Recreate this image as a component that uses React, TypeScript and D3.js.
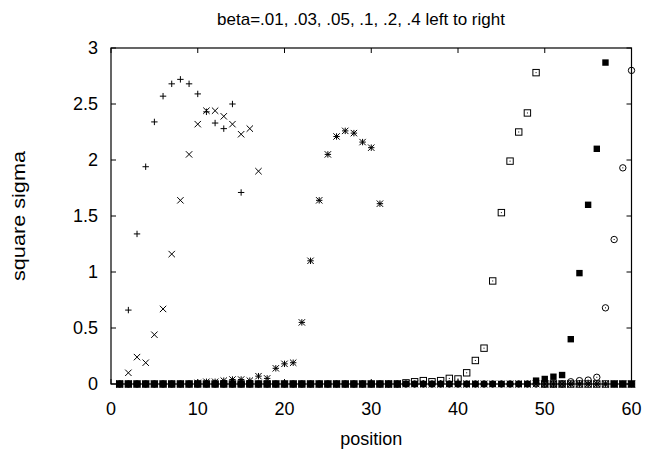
import React from "react";
import * as d3 from "d3";

const title = "beta=.01, .03, .05, .1, .2, .4 left to right";
const xLabel = "position";
const yLabel = "square sigma";
const xTicks = [0, 10, 20, 30, 40, 50, 60];
const yTicks = [0, 0.5, 1, 1.5, 2, 2.5, 3];
const positions = d3.range(1, 61);

// values at positions 1..60 (null = outside plot range)
const beta01 = [0, 0.66, 1.34, 1.94, 2.34, 2.57, 2.68, 2.72, 2.68, 2.59, 2.43, 2.33, 2.28, 2.5, 1.71,
  0, 0, 0, 0, 0, 0, 0, 0, 0, 0, 0, 0, 0, 0, 0, 0, 0, 0, 0, 0, 0, 0, 0, 0, 0, 0, 0, 0, 0, 0,
  0, 0, 0, 0, 0, 0, 0, 0, 0, 0, 0, 0, 0, 0, 0];
const beta03 = [0, 0.1, 0.24, 0.19, 0.44, 0.67, 1.16, 1.64, 2.05, 2.32, 2.44, 2.44, 2.39, 2.32, 2.23,
  2.28, 1.9, 0, 0, 0, 0, 0, 0, 0, 0, 0, 0, 0, 0, 0, 0, 0, 0, 0, 0, 0, 0, 0, 0, 0, 0, 0, 0, 0, 0,
  0, 0, 0, 0, 0, 0, 0, 0, 0, 0, 0, 0, 0, 0, 0];
const beta05 = [0, 0, 0, 0, 0, 0, 0, 0, 0, 0.01, 0.02, 0.02, 0.03, 0.04, 0.04,
  0.03, 0.07, 0.05, 0.14, 0.18, 0.19, 0.55, 1.1, 1.64, 2.05, 2.21, 2.26, 2.24, 2.16, 2.11,
  1.61, 0, 0, 0, 0, 0, 0, 0, 0, 0, 0, 0, 0, 0, 0, 0, 0, 0, 0, 0, 0, 0, 0, 0, 0, 0, 0, 0, 0, 0];
const beta1 = [0, 0, 0, 0, 0, 0, 0, 0, 0, 0, 0, 0, 0, 0, 0, 0, 0, 0, 0, 0, 0, 0, 0, 0, 0, 0, 0, 0, 0, 0,
  0, 0, 0, 0.01, 0.02, 0.03, 0.02, 0.03, 0.05, 0.045, 0.1, 0.21, 0.32, 0.92, 1.53,
  1.99, 2.25, 2.42, 2.78, 0, 0, 0, 0, 0, 0, 0, 0, 0, 0, 0];
const beta2 = [0, 0, 0, 0, 0, 0, 0, 0, 0, 0, 0, 0, 0, 0, 0, 0, 0, 0, 0, 0, 0, 0, 0, 0, 0, 0, 0, 0, 0, 0,
  0, 0, 0, 0, 0, 0, 0, 0, 0, 0, 0, 0, 0, 0, 0, 0, 0, 0, 0.03, 0.045, 0.065, 0.08, 0.4, 0.99, 1.6,
  2.1, 2.87, 0, 0, 0];
const beta4 = [0, 0, 0, 0, 0, 0, 0, 0, 0, 0, 0, 0, 0, 0, 0, 0, 0, 0, 0, 0, 0, 0, 0, 0, 0, 0, 0, 0, 0, 0,
  0, 0, 0, 0, 0, 0, 0, 0, 0, 0, 0, 0, 0, 0, 0, 0, 0, 0, 0, 0, 0, 0, 0.02, 0.03, 0.035, 0.06,
  0.68, 1.29, 1.93, 2.8];

const seriesList = [
  { name: "0.01", values: beta01, marker: "plus" },
  { name: "0.03", values: beta03, marker: "cross" },
  { name: "0.05", values: beta05, marker: "star" },
  { name: "0.1", values: beta1, marker: "square" },
  { name: "0.2", values: beta2, marker: "filledSquare" },
  { name: "0.4", values: beta4, marker: "circle" },
];

const W = 647;
const H = 456;
const left = 111;
const right = 631.5;
const top = 48;
const bottom = 384;
const font = "'Liberation Sans', Arial, Helvetica, sans-serif";

function Marker({ type, x, y }: { type: string; x: number; y: number }) {
  const s = 3.2;
  const st = { stroke: "#000", strokeWidth: 1, fill: "none" } as any;
  if (type === "plus")
    return <path d={`M${x - s},${y}H${x + s}M${x},${y - s}V${y + s}`} {...st} />;
  if (type === "cross")
    return <path d={`M${x - s},${y - s}L${x + s},${y + s}M${x - s},${y + s}L${x + s},${y - s}`} {...st} />;
  if (type === "star")
    return (
      <path
        d={`M${x - s},${y}H${x + s}M${x},${y - s}V${y + s}M${x - s},${y - s}L${x + s},${y + s}M${x - s},${y + s}L${x + s},${y - s}`}
        {...st}
      />
    );
  if (type === "square")
    return (
      <g>
        <rect x={x - s} y={y - s} width={2 * s} height={2 * s} {...st} />
        <rect x={x - 0.5} y={y - 0.5} width={1} height={1} fill="#000" />
      </g>
    );
  if (type === "filledSquare")
    return <rect x={x - s} y={y - s} width={2 * s} height={2 * s} fill="#000" />;
  return (
    <g>
      <circle cx={x} cy={y} r={s} {...st} />
      <rect x={x - 0.5} y={y - 0.5} width={1} height={1} fill="#000" />
    </g>
  );
}

export default function App() {
  const x = d3.scaleLinear().domain([0, 60]).range([left, right]);
  const y = d3.scaleLinear().domain([0, 3]).range([bottom, top]);
  const tl = 5;
  return (
    <svg
      width={W}
      height={H}
      style={{ position: "absolute", left: 0, top: 0, background: "#fff" }}
      fontFamily={font}
    >
      <rect width={W} height={H} fill="#fff" />
      <text x={361} y={25} textAnchor="middle" fontSize={17}>
        {title}
      </text>
      {yTicks.map((t) => (
        <g key={"y" + t}>
          <path d={`M${left},${y(t)}h${tl}M${right},${y(t)}h${-tl}`} stroke="#000" strokeWidth={1} />
          <text x={98} y={y(t) + 6} textAnchor="end" fontSize={18}>
            {String(t)}
          </text>
        </g>
      ))}
      {xTicks.map((t) => (
        <g key={"x" + t}>
          <path d={`M${x(t)},${bottom}v${-tl}M${x(t)},${top}v${tl}`} stroke="#000" strokeWidth={1} />
          <text x={x(t)} y={415} textAnchor="middle" fontSize={18}>
            {String(t)}
          </text>
        </g>
      ))}
      <rect x={left} y={top} width={right - left} height={bottom - top} fill="none" stroke="#000" strokeWidth={1.2} />
      <text x={(left + right) / 2} y={445} textAnchor="middle" fontSize={18}>
        {xLabel}
      </text>
      <text
        transform={`translate(${25},${(top + bottom) / 2}) rotate(-90)`}
        textAnchor="middle"
        fontSize={18}
        textLength={130}
        lengthAdjust="spacingAndGlyphs"
      >
        {yLabel}
      </text>
      {seriesList.map((s) => (
        <g key={s.name}>
          {s.values.map((v, i) =>
            v === null || v > 3 ? null : (
              <Marker key={i} type={s.marker} x={x(positions[i])} y={y(v)} />
            )
          )}
        </g>
      ))}
    </svg>
  );
}
